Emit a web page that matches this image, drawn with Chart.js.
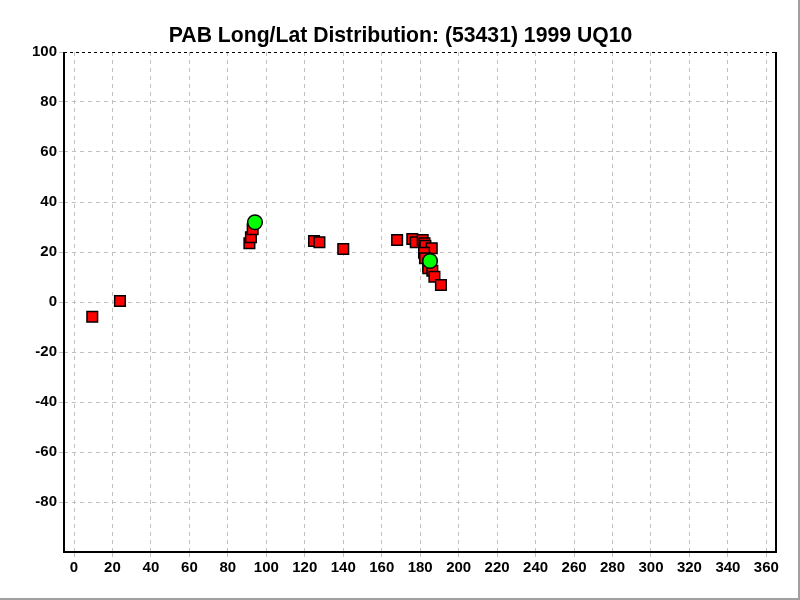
<!DOCTYPE html>
<html>
<head>
<meta charset="utf-8">
<script src="https://cdn.jsdelivr.net/npm/chart.js@4"></script>
<style>
  html, body { margin: 0; padding: 0; background: #fff; }
  #wrap { width: 800px; height: 600px; }
</style>
</head>
<body>
<div id="wrap"><canvas id="c" width="800" height="600"></canvas></div>
<script>
const titleText = "PAB Long/Lat Distribution: (53431) 1999 UQ10";
const redLong = [9.5, 23.9, 91.2, 92.0, 92.9, 124.8, 127.6, 140.0, 168.0, 175.9, 177.7, 181.3, 182.2, 182.7, 186.0, 182.0, 182.5, 184.2, 184.2, 186.3, 187.4, 190.8];
const redLat  = [-5.9, 0.4, 23.5, 25.9, 29.1, 24.4, 23.9, 21.2, 24.8, 25.2, 23.9, 24.8, 23.5, 22.5, 21.5, 19.7, 17.5, 14.4, 13.5, 12.5, 10.1, 6.8];
const greenLong = [94.1, 185.1];
const greenLat  = [31.9, 16.4];
const xTicks = [0, 20, 40, 60, 80, 100, 120, 140, 160, 180, 200, 220, 240, 260, 280, 300, 320, 340, 360];
const yTicks = [100, 80, 60, 40, 20, 0, -20, -40, -60, -80];

const toPts = (xs, ys) => xs.map((x, i) => ({ x: x, y: ys[i] }));

const framePlugin = {
  id: 'frame',
  beforeDraw(chart) {
    const ctx = chart.ctx;
    ctx.save();
    ctx.fillStyle = '#ffffff';
    ctx.fillRect(0, 0, chart.width, chart.height);
    ctx.fillStyle = '#000';
    ctx.font = 'bold 21.2px "Liberation Sans", Arial, sans-serif';
    ctx.textAlign = 'center';
    ctx.textBaseline = 'middle';
    ctx.fillText(titleText, 400.5, 36);
    ctx.restore();
  },
  beforeDatasetsDraw(chart) {
    const ctx = chart.ctx;
    const a = chart.chartArea;
    ctx.save();
    ctx.strokeStyle = '#000';
    ctx.setLineDash([3, 3]);
    ctx.lineWidth = 1;
    ctx.beginPath();
    ctx.moveTo(a.left, a.top + 0.5);
    ctx.lineTo(a.right, a.top + 0.5);
    ctx.stroke();
    ctx.setLineDash([]);
    ctx.lineWidth = 2;
    ctx.beginPath();
    ctx.moveTo(a.left, a.top);
    ctx.lineTo(a.left, a.bottom);
    ctx.lineTo(a.right, a.bottom);
    ctx.lineTo(a.right, a.top);
    ctx.stroke();
    ctx.restore();
  },
  afterDraw(chart) {
    const ctx = chart.ctx;
    ctx.save();
    ctx.strokeStyle = '#a0a0a0';
    ctx.lineWidth = 2;
    ctx.beginPath();
    ctx.moveTo(799, 0);
    ctx.lineTo(799, 599);
    ctx.lineTo(0, 599);
    ctx.stroke();
    ctx.restore();
  }
};

const tickFont = { family: 'Liberation Sans, Arial, sans-serif', size: 15, weight: 'bold' };

new Chart(document.getElementById('c'), {
  type: 'scatter',
  data: {
    datasets: [
      {
        label: 'PAB',
        data: toPts(redLong, redLat),
        pointStyle: 'rect',
        pointRadius: 7.5,
        pointHoverRadius: 7.5,
        backgroundColor: '#ff0000',
        borderColor: '#000000',
        borderWidth: 1.5,
        order: 2
      },
      {
        label: 'Current',
        data: toPts(greenLong, greenLat),
        pointStyle: 'circle',
        pointRadius: 7.3,
        pointHoverRadius: 7.3,
        backgroundColor: '#00ff00',
        borderColor: '#000000',
        borderWidth: 1.5,
        order: 1
      }
    ]
  },
  plugins: [framePlugin],
  options: {
    responsive: false,
    animation: false,
    events: [],
    layout: { padding: { left: 0, right: 24, top: 52, bottom: 0 } },
    plugins: {
      legend: { display: false },
      tooltip: { enabled: false },
      title: { display: false }
    },
    scales: {
      x: {
        type: 'linear',
        min: -5.2,
        max: 365,
        afterBuildTicks(scale) { scale.ticks = xTicks.map(v => ({ value: v })); },
        afterFit(scale) { scale.height = 48; },
        border: { display: false, dash: [4, 4] },
        grid: {
          color: '#c0c0c0',
          lineWidth: 1,
          tickLength: 5,
          tickColor: '#c0c0c0',
          drawTicks: true
        },
        ticks: {
          color: '#000',
          padding: 2,
          maxRotation: 0,
          autoSkip: false,
          font: tickFont
        }
      },
      y: {
        type: 'linear',
        min: -100,
        max: 100,
        afterBuildTicks(scale) { scale.ticks = yTicks.map(v => ({ value: v })); },
        afterFit(scale) { scale.width = 64; },
        border: { display: false, dash: [4, 4] },
        grid: {
          color: ctx => (ctx.tick && ctx.tick.value === 100) ? 'rgba(0,0,0,0)' : '#c0c0c0',
          lineWidth: 1,
          tickLength: 5,
          tickColor: '#c0c0c0',
          drawTicks: true
        },
        ticks: {
          color: '#000',
          padding: 2,
          autoSkip: false,
          font: tickFont
        }
      }
    }
  }
});
</script>
</body>
</html>
